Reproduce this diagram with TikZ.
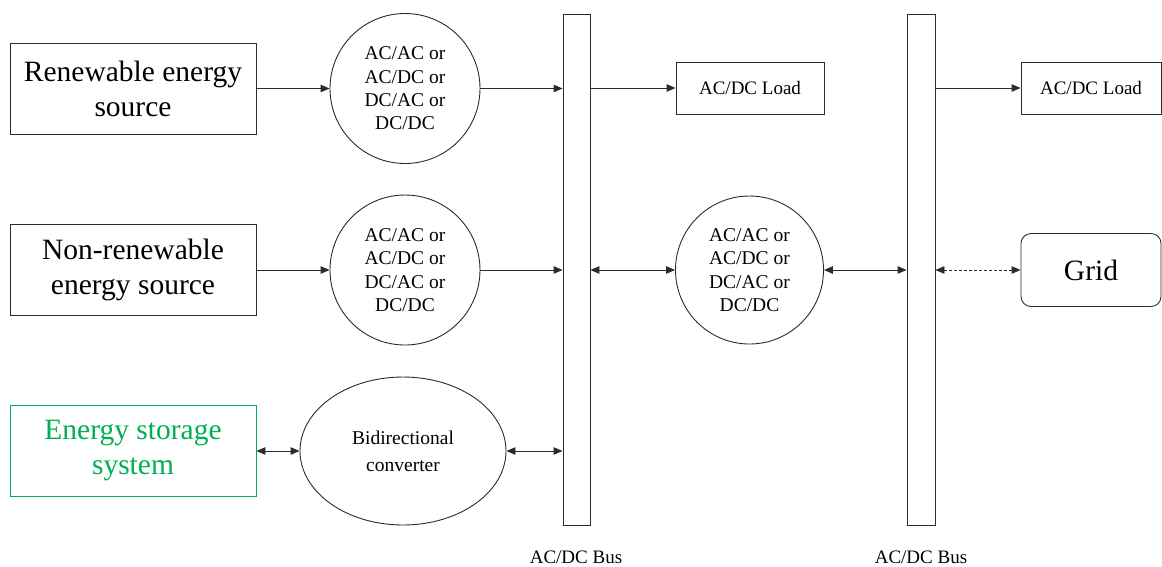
\documentclass[tikz,border=0pt]{standalone}
\usepackage{fontspec}
\setmainfont{Liberation Serif}
\usetikzlibrary{shapes.geometric,arrows.meta}
\definecolor{esgreen}{HTML}{00B050}
\definecolor{linegray}{HTML}{2B2B2B}
\begin{document}
\begin{tikzpicture}[x=1pt,y=-1pt,
  line width=0.9pt,
  bigbox/.style={draw=linegray,rectangle,minimum width=246pt,minimum height=91pt,inner sep=0pt,align=center,font=\fontsize{29.5}{35}\selectfont},
  loadbox/.style={draw=linegray,rectangle,minimum width=148pt,minimum height=52pt,inner sep=0pt,font=\fontsize{19}{23}\selectfont},
  conv/.style={draw=linegray,circle,minimum size=150pt,inner sep=0pt,align=center,font=\fontsize{19.5}{23.3}\selectfont},
  busbar/.style={draw=linegray,rectangle,minimum width=27pt,minimum height=511pt,inner sep=0pt},
  buslabel/.style={font=\fontsize{19}{23}\selectfont},
  arr/.style={draw=linegray,-{Triangle[length=9pt,width=7.5pt]}},
  darr/.style={draw=linegray,{Triangle[length=9pt,width=7.5pt]}-{Triangle[length=9pt,width=7.5pt]}}
]
\useasboundingbox (0,0) rectangle (1162,566);

% sources
\node[bigbox] (ren) at (133,88.5) {Renewable energy\\source};
\node[bigbox] (nren) at (133,270) {Non-renewable\\energy source};
\node[bigbox,draw=esgreen,text=esgreen] (ess) at (133,451) {Energy storage\\system};

% converters
\node[conv] (c1) at (405,88.5) {AC/AC or\\AC/DC or\\DC/AC or\\DC/DC};
\node[conv] (c2) at (405,270) {AC/AC or\\AC/DC or\\DC/AC or\\DC/DC};
\node[conv,minimum size=148pt] (c3) at (749.5,270) {AC/AC or\\AC/DC or\\DC/AC or\\DC/DC};
\node[draw=linegray,ellipse,minimum width=206pt,minimum height=148pt,inner sep=0pt,align=center,font=\fontsize{19.5}{27}\selectfont] (bc) at (403,451) {Bidirectional\\converter};

% buses
\node[busbar] (bus1) at (576.5,269.5) {};
\node[busbar,minimum width=28pt] (bus2) at (921,269.5) {};
\node[buslabel] (bl1) at (576,557) {AC/DC Bus};
\node[buslabel] (bl2) at (921,557) {AC/DC Bus};

% loads and grid
\node[loadbox] (load1) at (750,88) {AC/DC Load};
\node[loadbox,minimum width=140pt] (load2) at (1091,88) {AC/DC Load};
\node[draw=linegray,rectangle,rounded corners=10pt,minimum width=140pt,minimum height=73pt,inner sep=0pt,font=\fontsize{29.5}{35}\selectfont] (grid) at (1091,270) {Grid};

% connectors row 1
\draw[arr] (ren.east) -- (c1.west);
\draw[arr] (c1.east) -- (c1.east -| bus1.west);
\draw[arr] (load1.west -| bus1.east) -- (load1.west);
\draw[arr] (load2.west -| bus2.east) -- (load2.west);

% row 2
\draw[arr] (nren.east) -- (c2.west);
\draw[arr] (c2.east) -- (c2.east -| bus1.west);
\draw[darr] (c3.west -| bus1.east) -- (c3.west);
\draw[darr] (c3.east) -- (c3.east -| bus2.west);
\draw[darr,dashed,dash pattern=on 3pt off 2pt] (grid.west -| bus2.east) -- (grid.west);

% row 3
\draw[darr] (ess.east) -- (bc.west);
\draw[darr] (bc.east) -- (bc.east -| bus1.west);
\end{tikzpicture}
\end{document}
